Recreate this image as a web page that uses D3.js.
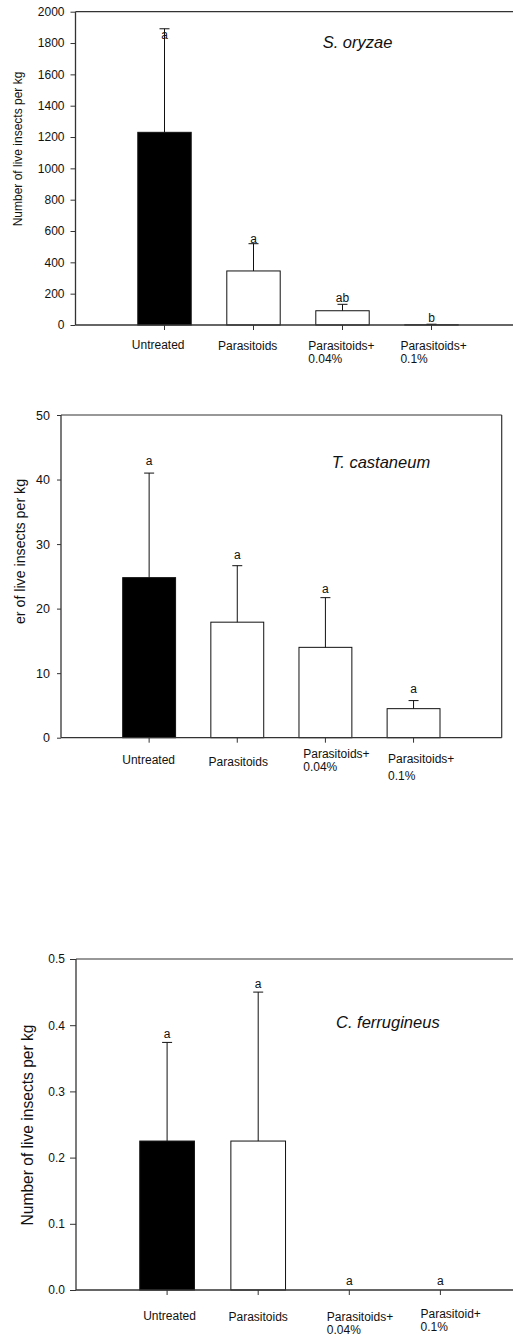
<!DOCTYPE html>
<html>
<head>
<meta charset="utf-8">
<script src="https://cdn.jsdelivr.net/npm/d3@7/dist/d3.min.js"></script>
<style>
  body { margin: 0; background: #fff; }
  svg { display: block; font-family: "Liberation Sans", Arial, sans-serif; }
</style>
</head>
<body>
<svg id="chart" width="513" height="1336"></svg>
<script>
// ---------- data ----------
const categories = ["Untreated", "Parasitoids", "Parasitoids+ 0.04%", "Parasitoids+ 0.1%"];
const catLabelsA = [["Untreated"], ["Parasitoids"], ["Parasitoids+", "0.04%"], ["Parasitoids+", "0.1%"]];
const catLabelsC = [["Untreated"], ["Parasitoids"], ["Parasitoids+", "0.04%"], ["Parasitoid+", "0.1%"]];

const oryzaeMean = [1230, 345, 91, 1];
const oryzaeSE = [661, 174, 41, 4];
const oryzaeLetters = ["a", "a", "ab", "b"];
const oryzaeLetterY = [1825, 521, 145, 21];
const oryzaeTicks = [0, 200, 400, 600, 800, 1000, 1200, 1400, 1600, 1800, 2000];

const castaneumMean = [24.8, 17.9, 14.0, 4.5];
const castaneumSE = [16.2, 8.75, 7.7, 1.25];
const castaneumLetters = ["a", "a", "a", "a"];
const castaneumLetterY = [42.3, 27.7, 22.4, 6.9];
const castaneumTicks = [0, 10, 20, 30, 40, 50];

const ferrugineusMean = [0.225, 0.225, 0, 0];
const ferrugineusSE = [0.149, 0.225, 0, 0];
const ferrugineusLetters = ["a", "a", "a", "a"];
const ferrugineusLetterY = [0.381, 0.456, 0.0076, 0.0076];
const ferrugineusTicks = [0, 0.1, 0.2, 0.3, 0.4, 0.5];

// ---------- layout ----------
const panels = [
  {
    title: "S. oryzae", yTitle: "Number of live insects per kg",
    mean: oryzaeMean, se: oryzaeSE, letters: oryzaeLetters, letterY: oryzaeLetterY,
    ticks: oryzaeTicks, fmt: d3.format("d"), yMax: 2000, labels: catLabelsA,
    left: 75.5, step: 89, top: 11.7, bottom: 325, frameRight: 513, rightBorder: false,
    tickSize: 5, tickPad: 6, tickFont: 12,
    yTitleX: 22, yTitleY: 149, yTitleFont: 12,
    titleX: 322.7, titleY: 47.5,
    lblDx: [-6.3, -5.8, -1.1, 2.1], lblBase: [24.3, 24.8, 25, 25], line2: [13.3, 13.3, 13.3, 13.3]
  },
  {
    title: "T. castaneum", yTitle: "er of live insects per kg",
    mean: castaneumMean, se: castaneumSE, letters: castaneumLetters, letterY: castaneumLetterY,
    ticks: castaneumTicks, fmt: d3.format("d"), yMax: 50, labels: catLabelsA,
    left: 61, step: 88.14, top: 415, bottom: 737.7, frameRight: 501.7, rightBorder: true,
    tickSize: 4, tickPad: 7, tickFont: 12.5,
    yTitleX: 25, yTitleY: 551.5, yTitleFont: 14.2,
    titleX: 331.7, titleY: 467.7,
    lblDx: [-0.5, 1, 11, 7.6], lblBase: [26.6, 28.3, 20.5, 25], line2: [13, 13, 13, 17]
  },
  {
    title: "C. ferrugineus", yTitle: "Number of live insects per kg",
    mean: ferrugineusMean, se: ferrugineusSE, letters: ferrugineusLetters, letterY: ferrugineusLetterY,
    ticks: ferrugineusTicks, fmt: d3.format(".1f"), yMax: 0.5, labels: catLabelsC,
    left: 76, step: 91.1, top: 959, bottom: 1290, frameRight: 513, rightBorder: false,
    tickSize: 6, tickPad: 5, tickFont: 12,
    yTitleX: 33.4, yTitleY: 1125, yTitleFont: 15.6,
    titleX: 336, titleY: 1027.5,
    lblDx: [2.4, 0, 10.7, 10.3], lblBase: [30, 31, 31, 28], line2: [12.8, 12.8, 12.8, 12.8]
  }
];

const svg = d3.select("#chart");
const ink = "#111";
const axisInk = "#333";

panels.forEach(p => {
  const g = svg.append("g");
  const x = d3.scaleBand().domain(categories)
    .range([p.left, p.left + 5 * p.step]).paddingInner(0.4).paddingOuter(0.7);
  const y = d3.scaleLinear().domain([0, p.yMax]).range([p.bottom, p.top]);

  // frame
  g.append("line").attr("x1", p.left).attr("x2", p.frameRight).attr("y1", p.top).attr("y2", p.top)
    .attr("stroke", axisInk).attr("stroke-width", 1.2);
  if (p.rightBorder) {
    g.append("line").attr("x1", p.frameRight).attr("x2", p.frameRight).attr("y1", p.top).attr("y2", p.bottom)
      .attr("stroke", axisInk).attr("stroke-width", 1.2);
  }

  // bars
  const rows = categories.map((c, i) => ({ c, i, m: p.mean[i], s: p.se[i], l: p.letters[i], ly: p.letterY[i] }));
  g.selectAll("rect.bar").data(rows.filter(d => d.m > 0)).join("rect")
    .attr("class", "bar")
    .attr("x", d => x(d.c)).attr("width", x.bandwidth())
    .attr("y", d => y(d.m)).attr("height", d => y(0) - y(d.m))
    .attr("fill", d => d.i === 0 ? "#000" : "#fff")
    .attr("stroke", ink).attr("stroke-width", 1);

  // error bars
  const eb = rows.filter(d => d.s > 0);
  const cx = d => x(d.c) + x.bandwidth() / 2;
  g.selectAll("line.eb").data(eb).join("line")
    .attr("x1", cx).attr("x2", cx)
    .attr("y1", d => y(d.m)).attr("y2", d => y(d.m + d.s))
    .attr("stroke", ink).attr("stroke-width", 1);
  g.selectAll("line.cap").data(eb).join("line")
    .attr("x1", d => cx(d) - 5).attr("x2", d => cx(d) + 5)
    .attr("y1", d => y(d.m + d.s)).attr("y2", d => y(d.m + d.s))
    .attr("stroke", ink).attr("stroke-width", 1);

  // letters
  g.selectAll("text.let").data(rows).join("text")
    .attr("x", cx).attr("y", d => y(d.ly))
    .attr("text-anchor", "middle").attr("font-size", 12).attr("fill", ink)
    .text(d => d.l);

  // y axis
  const ya = g.append("g").attr("transform", `translate(${p.left},0)`)
    .call(d3.axisLeft(y).tickValues(p.ticks).tickFormat(p.fmt).tickSize(p.tickSize).tickPadding(p.tickPad));
  ya.select(".domain").attr("stroke", axisInk).attr("stroke-width", 1.3)
    .attr("d", `M0,${p.top}V${p.bottom}`);
  ya.selectAll(".tick line").attr("stroke", axisInk);
  ya.selectAll(".tick text").attr("font-size", p.tickFont).attr("fill", ink)
    .attr("font-family", "'Liberation Sans', Arial, sans-serif");

  // x axis
  const xa = g.append("g").attr("transform", `translate(0,${p.bottom})`)
    .call(d3.axisBottom(x).tickSize(5).tickFormat(""));
  xa.select(".domain").remove();
  xa.selectAll(".tick line").attr("stroke", axisInk);
  g.append("line").attr("x1", p.left).attr("x2", p.frameRight).attr("y1", p.bottom).attr("y2", p.bottom)
    .attr("stroke", axisInk).attr("stroke-width", 1.3);

  // category labels
  rows.forEach(d => {
    const lines = p.labels[d.i];
    const tx = cx(d) + p.lblDx[d.i];
    const ty = p.bottom + p.lblBase[d.i];
    const t1 = g.append("text").attr("x", tx).attr("y", ty)
      .attr("text-anchor", "middle").attr("font-size", 12).attr("fill", ink).text(lines[0]);
    if (lines.length > 1) {
      const w = t1.node().getComputedTextLength();
      g.append("text").attr("x", tx - w / 2).attr("y", ty + p.line2[d.i])
        .attr("text-anchor", "start").attr("font-size", 12).attr("fill", ink).text(lines[1]);
    }
  });

  // y title
  g.append("text")
    .attr("transform", `translate(${p.yTitleX},${p.yTitleY}) rotate(-90)`)
    .attr("text-anchor", "middle").attr("font-size", p.yTitleFont).attr("fill", ink)
    .text(p.yTitle);

  // species title
  g.append("text").attr("x", p.titleX).attr("y", p.titleY)
    .attr("font-size", 16.5).attr("font-style", "italic").attr("fill", ink)
    .text(p.title);
});
</script>
</body>
</html>
